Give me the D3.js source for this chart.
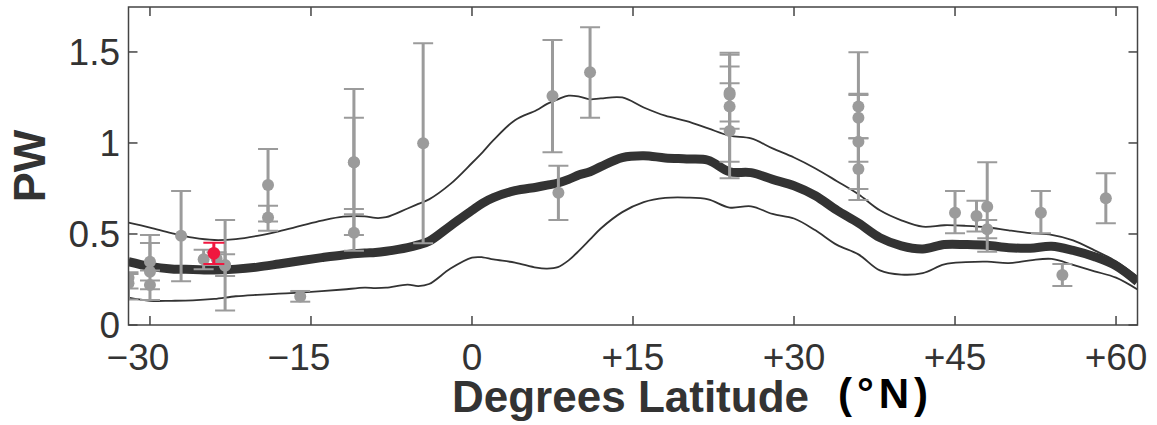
<!DOCTYPE html>
<html>
<head>
<meta charset="utf-8">
<script src="https://cdn.jsdelivr.net/npm/d3@7"></script>
<style>
  html, body { margin: 0; padding: 0; background: #fff; }
  svg { display: block; }
  text { font-family: "Liberation Sans", Arial, Helvetica, sans-serif; }
</style>
</head>
<body>
<svg id="chart" width="1157" height="425"></svg>
<script>
// Latitude grid (degrees N) for the model curves
const latGrid = [-32, -30, -28, -26, -24, -22, -20, -18, -16, -14, -12, -10, -9, -8, -6, -5, -4, -2, 0, 1, 2, 4, 6, 7, 8, 9, 10, 11, 12, 14, 16, 18, 20, 22, 24, 26, 28, 30, 32, 34, 36, 38, 40, 42, 44, 46, 48, 50, 52, 54, 56, 58, 60, 62];

// Model mean PW and its upper / lower envelope
const meanPW  = [0.348, 0.322, 0.308, 0.305, 0.302, 0.307, 0.318, 0.335, 0.353, 0.370, 0.385, 0.395, 0.398, 0.405, 0.425, 0.440, 0.460, 0.545, 0.630, 0.670, 0.700, 0.738, 0.757, 0.768, 0.780, 0.800, 0.825, 0.842, 0.870, 0.920, 0.930, 0.918, 0.912, 0.905, 0.842, 0.837, 0.800, 0.765, 0.710, 0.630, 0.560, 0.480, 0.435, 0.418, 0.442, 0.442, 0.438, 0.425, 0.422, 0.433, 0.410, 0.375, 0.325, 0.238];
const upperPW = [0.562, 0.535, 0.505, 0.480, 0.467, 0.472, 0.490, 0.515, 0.544, 0.573, 0.595, 0.597, 0.588, 0.592, 0.640, 0.665, 0.690, 0.775, 0.890, 0.950, 1.015, 1.125, 1.180, 1.215, 1.240, 1.260, 1.255, 1.240, 1.245, 1.250, 1.195, 1.150, 1.120, 1.080, 1.040, 1.025, 0.970, 0.920, 0.860, 0.790, 0.718, 0.630, 0.575, 0.540, 0.548, 0.545, 0.537, 0.520, 0.505, 0.495, 0.465, 0.410, 0.350, 0.265];
const lowerPW = [0.150, 0.133, 0.133, 0.135, 0.143, 0.158, 0.166, 0.172, 0.178, 0.186, 0.195, 0.205, 0.203, 0.205, 0.222, 0.214, 0.225, 0.310, 0.370, 0.372, 0.360, 0.343, 0.315, 0.310, 0.318, 0.355, 0.410, 0.470, 0.530, 0.620, 0.675, 0.698, 0.700, 0.690, 0.645, 0.652, 0.610, 0.585, 0.520, 0.440, 0.388, 0.300, 0.277, 0.285, 0.333, 0.345, 0.348, 0.340, 0.355, 0.363, 0.330, 0.295, 0.260, 0.195];

// Site observations: latitude, PW, lower and upper error limits
const obsLat  = [-32, -32, -30, -30, -30, -27.1, -25.0, -23.8, -23.0, -23.0, -19.0, -19.0, -16.0, -11.0, -11.0, -11.0, -4.55, 7.5, 8.05, 11.0, 24.0, 24.0, 24.0, 24.0, 36.0, 36.0, 36.0, 36.0, 45.0, 47.0, 48.0, 48.0, 53.0, 55.0, 59.05];
const obsPW   = [0.260, 0.230, 0.348, 0.293, 0.220, 0.490, 0.361, 0.366, 0.326, 0.330, 0.769, 0.590, 0.157, 0.894, 0.894, 0.507, 0.998, 1.258, 0.727, 1.388, 1.276, 1.265, 1.200, 1.066, 1.200, 1.139, 1.007, 0.857, 0.617, 0.599, 0.650, 0.526, 0.617, 0.275, 0.696];
const obsLow  = [0.200, 0.140, 0.299, 0.137, 0.196, 0.240, 0.306, 0.330, 0.079, 0.269, 0.568, 0.518, 0.128, 0.637, 0.495, 0.408, 0.449, 0.949, 0.577, 1.139, 1.078, 0.897, 1.118, 0.806, 0.897, 1.026, 0.747, 0.687, 0.504, 0.513, 0.403, 0.476, 0.504, 0.214, 0.559];
const obsHigh = [0.290, 0.280, 0.495, 0.450, 0.244, 0.736, 0.414, 0.400, 0.577, 0.388, 0.967, 0.655, 0.187, 1.297, 1.139, 0.608, 1.548, 1.566, 0.875, 1.636, 1.484, 1.496, 1.328, 1.420, 1.498, 1.270, 1.264, 1.026, 0.736, 0.683, 0.894, 0.577, 0.736, 0.335, 0.833];

// Highlighted observation
const hiLat = [-24.05];
const hiPW = [0.394];
const hiLow = [0.335];
const hiHigh = [0.452];

// Axis ticks
const xTicks = [-30, -15, 0, 15, 30, 45, 60];
const xTickLabels = ["\u221230", "\u221215", "0", "+15", "+30", "+45", "+60"];
const yTicks = [0, 0.5, 1, 1.5];
const yTickLabels = ["0", "0.5", "1", "1.5"];

const svg = d3.select("#chart");
const plot = { left: 128.5, right: 1137.5, top: 7, bottom: 325 };

const x = d3.scaleLinear().domain([-32, 62]).range([plot.left, plot.right]);
const y = d3.scaleLinear().domain([0, 1.747]).range([plot.bottom, plot.top]);

const ink = "#333333";
const obsGrey = "#9b9b9b";
const hiRed = "#f0173f";

svg.append("defs").append("clipPath").attr("id", "plotClip")
  .append("rect")
  .attr("x", plot.left).attr("y", plot.top)
  .attr("width", plot.right - plot.left).attr("height", plot.bottom - plot.top);

const inner = svg.append("g").attr("clip-path", "url(#plotClip)");

// Model curves
const modelLine = (vals) => d3.line()
  .x((d, i) => x(latGrid[i]))
  .y(d => y(d))
  .curve(d3.curveCatmullRom.alpha(0.5))(vals);

inner.append("path").attr("d", modelLine(upperPW))
  .attr("fill", "none").attr("stroke", ink).attr("stroke-width", 1.8);
inner.append("path").attr("d", modelLine(lowerPW))
  .attr("fill", "none").attr("stroke", ink).attr("stroke-width", 1.8);
inner.append("path").attr("d", modelLine(meanPW))
  .attr("fill", "none").attr("stroke", ink).attr("stroke-width", 9)
  .attr("stroke-linejoin", "round");

// Error bars with caps, then points
function drawObs(g, lats, pws, lows, highs, color, capHalf, r) {
  const idx = d3.range(lats.length);
  const eb = g.append("g").attr("stroke", color).attr("stroke-width", 3);
  eb.selectAll("line.stem").data(idx).join("line")
    .attr("x1", i => x(lats[i])).attr("x2", i => x(lats[i]))
    .attr("y1", i => y(lows[i])).attr("y2", i => y(highs[i]));
  eb.selectAll("line.capLo").data(idx).join("line")
    .attr("x1", i => x(lats[i]) - capHalf).attr("x2", i => x(lats[i]) + capHalf)
    .attr("y1", i => y(lows[i])).attr("y2", i => y(lows[i]))
    .attr("stroke-width", 2);
  eb.selectAll("line.capHi").data(idx).join("line")
    .attr("x1", i => x(lats[i]) - capHalf).attr("x2", i => x(lats[i]) + capHalf)
    .attr("y1", i => y(highs[i])).attr("y2", i => y(highs[i]))
    .attr("stroke-width", 2);
  g.append("g").selectAll("circle").data(idx).join("circle")
    .attr("cx", i => x(lats[i])).attr("cy", i => y(pws[i]))
    .attr("r", r).attr("fill", color);
}

drawObs(inner.append("g"), obsLat, obsPW, obsLow, obsHigh, obsGrey, 10, 6);
drawObs(inner.append("g"), hiLat, hiPW, hiLow, hiHigh, hiRed, 10.5, 6.3);

// Frame and inward ticks on all sides
const frame = svg.append("g");
frame.append("rect")
  .attr("x", plot.left).attr("y", plot.top)
  .attr("width", plot.right - plot.left).attr("height", plot.bottom - plot.top)
  .attr("fill", "none").attr("stroke", "#444").attr("stroke-width", 1.5);

const tickLen = 9;
frame.selectAll("line.xb").data(xTicks).join("line")
  .attr("x1", d => x(d)).attr("x2", d => x(d))
  .attr("y1", plot.bottom).attr("y2", plot.bottom - tickLen)
  .attr("stroke", "#444").attr("stroke-width", 1.5);
frame.selectAll("line.xt").data(xTicks).join("line")
  .attr("x1", d => x(d)).attr("x2", d => x(d))
  .attr("y1", plot.top).attr("y2", plot.top + tickLen)
  .attr("stroke", "#444").attr("stroke-width", 1.5);
frame.selectAll("line.yl").data(yTicks).join("line")
  .attr("x1", plot.left).attr("x2", plot.left + tickLen)
  .attr("y1", d => y(d)).attr("y2", d => y(d))
  .attr("stroke", "#444").attr("stroke-width", 1.5);
frame.selectAll("line.yr").data(yTicks).join("line")
  .attr("x1", plot.right).attr("x2", plot.right - tickLen)
  .attr("y1", d => y(d)).attr("y2", d => y(d))
  .attr("stroke", "#444").attr("stroke-width", 1.5);

// Tick labels
svg.append("g").selectAll("text").data(xTicks).join("text")
  .attr("x", (d) => x(d) + (d < 0 ? -12 : 0))
  .attr("y", 370)
  .attr("text-anchor", "middle")
  .attr("font-size", 37)
  .attr("fill", ink)
  .text((d, i) => xTickLabels[i]);

svg.append("g").selectAll("text").data(yTicks).join("text")
  .attr("x", 120)
  .attr("y", d => y(d) + 13)
  .attr("text-anchor", "end")
  .attr("font-size", 37)
  .attr("fill", ink)
  .text((d, i) => yTickLabels[i]);

// Axis titles
svg.append("text")
  .attr("transform", "translate(45,166) rotate(-90)")
  .attr("text-anchor", "middle")
  .attr("font-size", 45).attr("font-weight", "bold")
  .attr("fill", ink)
  .text("PW");

svg.append("text")
  .attr("x", 452).attr("y", 412)
  .attr("font-size", 44).attr("font-weight", "bold")
  .attr("fill", ink)
  .text("Degrees Latitude");

svg.append("text")
  .attr("x", 838).attr("y", 408)
  .attr("font-size", 42).attr("font-weight", "bold")
  .attr("letter-spacing", 5)
  .attr("fill", "#000")
  .text("(\u00b0N)");
</script>
</body>
</html>
